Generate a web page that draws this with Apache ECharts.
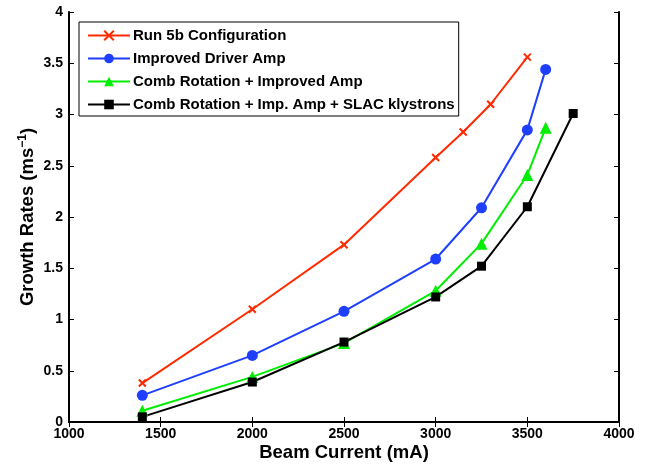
<!DOCTYPE html>
<html>
<head>
<meta charset="utf-8">
<script src="https://cdn.jsdelivr.net/npm/echarts@6/dist/echarts.min.js"></script>
<style>
  html, body { margin: 0; padding: 0; background: #fff; }
  #chart { width: 648px; height: 464px; }
</style>
</head>
<body>
<div id="chart"></div>
<script>
// Growth rate vs. beam current for four RF configurations
const seriesNames = [
  'Run 5b Configuration',
  'Improved Driver Amp',
  'Comb Rotation + Improved Amp',
  'Comb Rotation + Imp. Amp + SLAC klystrons'
];

const run5bCurrent = [1400, 2000, 2500, 3000, 3150, 3300, 3500];
const run5bRate    = [0.38, 1.10, 1.73, 2.58, 2.83, 3.10, 3.56];

const driverCurrent = [1400, 2000, 2500, 3000, 3250, 3500, 3600];
const driverRate    = [0.26, 0.65, 1.08, 1.59, 2.09, 2.85, 3.44];

const combCurrent = [1400, 2000, 2500, 3000, 3250, 3500, 3600];
const combRate    = [0.11, 0.44, 0.77, 1.28, 1.74, 2.41, 2.87];

const slacCurrent = [1400, 2000, 2500, 3000, 3250, 3500, 3750];
const slacRate    = [0.05, 0.39, 0.78, 1.22, 1.52, 2.10, 3.01];

const xTicks = [1000, 1500, 2000, 2500, 3000, 3500, 4000];
const yTicks = [0, 0.5, 1, 1.5, 2, 2.5, 3, 3.5, 4];

const colors = ['#ff2a00', '#1f3fff', '#00ee00', '#000000'];
const FONT = 'Liberation Sans, Arial, sans-serif';

const pair = (xs, ys) => xs.map((x, i) => [x, ys[i]]);

const crossPath = 'path://M0,0 L10,10 M10,0 L0,10';

function makeSeries(name, xs, ys, color, symbol, size, extra) {
  return Object.assign({
    name: name,
    type: 'line',
    data: pair(xs, ys),
    symbol: symbol,
    symbolSize: size,
    showAllSymbol: true,
    lineStyle: { color: color, width: 2 },
    itemStyle: { color: color, borderColor: color, borderWidth: 0 },
    emphasis: { disabled: true },
    animation: false
  }, extra || {});
}

const frameX = {
  type: 'value', min: xTicks[0], max: xTicks[xTicks.length - 1], interval: 500,
  axisLine: { show: true, lineStyle: { color: '#000', width: 2 } },
  axisTick: { show: true, inside: true, length: 5, lineStyle: { color: '#000', width: 1 } },
  splitLine: { show: false }
};
const frameY = {
  type: 'value', min: yTicks[0], max: yTicks[yTicks.length - 1], interval: 0.5,
  axisLine: { show: true, lineStyle: { color: '#000', width: 2 } },
  axisTick: { show: true, inside: true, length: 5, lineStyle: { color: '#000', width: 1 } },
  splitLine: { show: false }
};

const chart = echarts.init(document.getElementById('chart'), null, { renderer: 'canvas' });
chart.setOption({
  backgroundColor: '#fff',
  animation: false,
  grid: { left: 69, right: 29, top: 12, bottom: 42, containLabel: false, outerBoundsMode: 'none' },
  legend: {
    orient: 'vertical',
    left: 79, top: 22,
    data: seriesNames,
    backgroundColor: '#fff',
    borderColor: '#000', borderWidth: 1,
    padding: [6, 4, 4, 8],
    itemWidth: 42, itemHeight: 12, itemGap: 8,
    textStyle: { fontFamily: FONT, fontWeight: 'bold', fontSize: 15, color: '#000', padding: [0, 0, 0, -2] },
    selectedMode: false
  },
  xAxis: [
    Object.assign({}, frameX, {
      position: 'bottom',
      name: 'Beam Current (mA)',
      nameLocation: 'middle', nameGap: 21, nameMoveOverlap: false,
      nameTextStyle: { fontFamily: FONT, fontWeight: 'bold', fontSize: 18.5, color: '#000' },
      axisLabel: {
        show: true, margin: 5, fontFamily: FONT, fontWeight: 'bold', fontSize: 14, color: '#000',
        formatter: v => String(v)
      }
    }),
    Object.assign({}, frameX, { position: 'top', axisLabel: { show: false } })
  ],
  yAxis: [
    Object.assign({}, frameY, {
      position: 'left',
      name: 'Growth Rates (ms{sup|−1})',
      nameLocation: 'middle', nameGap: 31, nameMoveOverlap: false,
      nameTextStyle: {
        fontFamily: FONT, fontWeight: 'bold', fontSize: 18.5, color: '#000',
        rich: { sup: { fontFamily: FONT, fontWeight: 'bold', fontSize: 12, color: '#000', padding: [0, 0, 9, 0] } }
      },
      axisLabel: {
        show: true, margin: 6, fontFamily: FONT, fontWeight: 'bold', fontSize: 14, color: '#000',
        formatter: v => String(v)
      }
    }),
    Object.assign({}, frameY, { position: 'right', axisLabel: { show: false } })
  ],
  series: [
    makeSeries(seriesNames[0], run5bCurrent, run5bRate, colors[0], crossPath, 7,
      { itemStyle: { color: colors[0], borderColor: colors[0], borderWidth: 2 } }),
    makeSeries(seriesNames[1], driverCurrent, driverRate, colors[1], 'circle', 11),
    makeSeries(seriesNames[2], combCurrent, combRate, colors[2], 'triangle', 12),
    makeSeries(seriesNames[3], slacCurrent, slacRate, colors[3], 'rect', 9)
  ]
});
</script>
</body>
</html>
